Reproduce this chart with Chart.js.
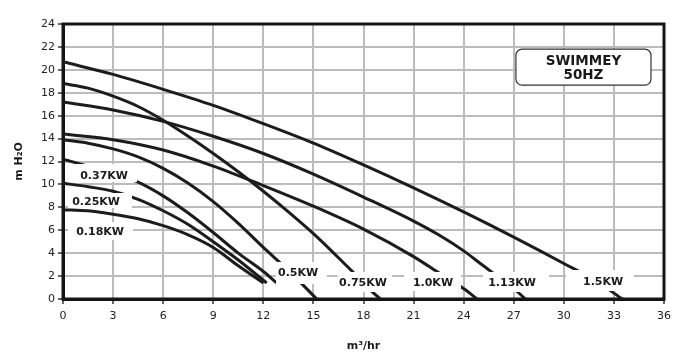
<!DOCTYPE html>
<html>
<head>
<meta charset="utf-8">
<script src="https://cdn.jsdelivr.net/npm/chart.js@4.4.0/dist/chart.umd.min.js"></script>
<style>
  html, body { margin: 0; padding: 0; background: #fff; }
  #wrap { width: 690px; height: 355px; }
</style>
</head>
<body>
<div id="wrap"><canvas id="chart" width="690" height="355"></canvas></div>
<script>
// pump curves, [flow m3/hr, head m]
const curve018 = [[0, 7.8], [1.5, 7.7], [3, 7.4], [4.5, 7.0], [6, 6.4], [7.5, 5.6], [9, 4.5], [10.5, 2.9], [12, 1.4]];
const curve025 = [[0, 10.1], [1.5, 9.8], [3, 9.4], [4.5, 8.7], [6, 7.7], [7.5, 6.5], [9, 5.0], [10.5, 3.4], [12.2, 1.4]];
const curve037 = [[0, 12.2], [1.5, 11.6], [3, 11.0], [4.5, 10.2], [6, 9.0], [7.5, 7.5], [9, 5.8], [10.5, 4.0], [12, 2.4], [12.8, 1.4]];
const curve050 = [[0, 13.9], [1.5, 13.6], [3, 13.1], [4.5, 12.4], [6, 11.4], [7.5, 10.1], [9, 8.5], [10.5, 6.6], [12, 4.5], [13.5, 2.5], [15.2, 0]];
const curve075 = [[0, 18.8], [1.5, 18.4], [3, 17.7], [4.5, 16.8], [6, 15.6], [7.5, 14.2], [9, 12.7], [10.5, 11.1], [12, 9.4], [13.5, 7.6], [15, 5.7], [16.5, 3.6], [17.4, 2.3], [18.4, 0.8], [19.0, 0]];
const curve100 = [[0, 14.4], [3, 13.9], [6, 13.0], [9, 11.6], [12, 9.9], [15, 8.1], [18, 6.1], [21, 3.7], [22.6, 2.2], [24.1, 0.8], [24.8, 0]];
const curve113 = [[0, 17.2], [3, 16.5], [6, 15.5], [9, 14.2], [12, 12.7], [15, 10.9], [18, 8.9], [21, 6.8], [22.5, 5.6], [24, 4.2], [25, 3.1], [26, 2.0], [27, 0.9], [27.7, 0]];
const curve150 = [[0, 20.7], [3, 19.6], [6, 18.3], [9, 16.9], [12, 15.3], [15, 13.6], [18, 11.7], [21, 9.7], [24, 7.6], [27, 5.4], [30, 3.1], [32, 1.5], [33.5, 0]];

const curves = [curve018, curve025, curve037, curve050, curve075, curve100, curve113, curve150];
const powerLabels = ['0.18KW', '0.25KW', '0.37KW', '0.5KW', '0.75KW', '1.0KW', '1.13KW', '1.5KW'];

const xMax = 36, xStep = 3;
const yMax = 24, yStep = 2;

// where each power label sits (data units): text centre + white box [x1, x2, y1, y2]
const labelPlaces = [
  { tx: 2.22, ty: 5.85, box: [0.30, 4.19, 6.72, 5.15] },
  { tx: 1.98, ty: 8.47, box: [0.30, 4.13, 9.25, 7.94] },
  { tx: 2.46, ty: 10.73, box: [0.78, 4.43, 11.78, 10.21] },
  { tx: 14.08, ty: 2.27, box: [12.76, 15.81, 3.23, 1.31] },
  { tx: 17.97, ty: 1.40, box: [16.45, 19.71, 2.36, 0.61] },
  { tx: 22.16, ty: 1.40, box: [20.43, 23.84, 2.36, 0.70] },
  { tx: 26.90, ty: 1.40, box: [25.16, 29.11, 2.36, 0.61] },
  { tx: 32.35, ty: 1.48, box: [30.13, 34.20, 2.53, 0.70] },
];

const FONT = '"DejaVu Sans", Verdana, sans-serif';

// frame round the plot, over the grid
const framePlugin = {
  id: 'frame',
  beforeDatasetsDraw(chart) {
    const { ctx, chartArea: a } = chart;
    ctx.save();
    ctx.strokeStyle = '#151515';
    ctx.lineWidth = 3;
    ctx.strokeRect(a.left, a.top, a.right - a.left, a.bottom - a.top);
    ctx.restore();
  },
};

// KW labels on white boxes, and the model box
const labelPlugin = {
  id: 'labels',
  afterDatasetsDraw(chart) {
    const { ctx } = chart;
    const xs = chart.scales.x, ys = chart.scales.y;
    ctx.save();
    labelPlaces.forEach((p, i) => {
      const x1 = xs.getPixelForValue(p.box[0]);
      const x2 = xs.getPixelForValue(p.box[1]);
      const y1 = ys.getPixelForValue(p.box[2]);
      const y2 = ys.getPixelForValue(p.box[3]);
      ctx.fillStyle = '#fff';
      ctx.fillRect(x1, y1, x2 - x1, y2 - y1);
      ctx.fillStyle = '#1a1a1a';
      ctx.font = 'bold 11px ' + FONT;
      ctx.textAlign = 'center';
      ctx.textBaseline = 'middle';
      ctx.fillText(powerLabels[i], xs.getPixelForValue(p.tx), ys.getPixelForValue(p.ty));
    });

    // SWIMMEY 50HZ box
    const bx1 = xs.getPixelForValue(27.13), bx2 = xs.getPixelForValue(35.22);
    const by1 = ys.getPixelForValue(21.8), by2 = ys.getPixelForValue(18.67);
    ctx.beginPath();
    ctx.roundRect(bx1, by1, bx2 - bx1, by2 - by1, 6);
    ctx.fillStyle = '#fff';
    ctx.fill();
    ctx.strokeStyle = '#333';
    ctx.lineWidth = 1.2;
    ctx.stroke();
    ctx.fillStyle = '#1a1a1a';
    ctx.font = 'bold 13.5px ' + FONT;
    ctx.textAlign = 'center';
    ctx.textBaseline = 'middle';
    const cx = (bx1 + bx2) / 2;
    ctx.fillText('SWIMMEY', cx, by1 + 12);
    ctx.fillText('50HZ', cx, by1 + 26);
    ctx.restore();
  },
};

const datasets = curves.map((c, i) => ({
  label: powerLabels[i],
  data: c.map(([x, y]) => ({ x, y })),
  showLine: true,
  borderColor: '#1c1c1c',
  borderWidth: 3,
  pointRadius: 0,
  fill: false,
  cubicInterpolationMode: 'monotone',
}));

new Chart(document.getElementById('chart'), {
  type: 'scatter',
  data: { datasets },
  options: {
    responsive: false,
    animation: false,
    layout: { padding: { top: 24, right: 26, left: 0, bottom: 0 } },
    plugins: { legend: { display: false }, tooltip: { enabled: false } },
    scales: {
      x: {
        type: 'linear',
        min: 0,
        max: xMax,
        afterFit: (s) => { s.height = 56; },
        ticks: { stepSize: xStep, color: '#222', font: { family: FONT, size: 11 }, padding: 6 },
        grid: { color: '#bcbcbc', lineWidth: 2, tickLength: 5, tickColor: '#333', tickWidth: 1.5 },
        border: { display: true, color: '#151515', width: 3 },
        title: { display: true, text: 'm³/hr', color: '#1a1a1a', font: { family: FONT, size: 11, weight: 'bold' }, padding: { top: 0, bottom: 2 } },
      },
      y: {
        min: 0,
        max: yMax,
        afterFit: (s) => { s.width = 63; },
        ticks: { stepSize: yStep, color: '#222', font: { family: FONT, size: 11 }, padding: 3 },
        grid: { color: '#bcbcbc', lineWidth: 2, tickLength: 5, tickColor: '#333', tickWidth: 1.5 },
        border: { display: true, color: '#151515', width: 3 },
        title: { display: true, text: 'm H₂O', color: '#1a1a1a', font: { family: FONT, size: 11, weight: 'bold' }, padding: { top: 13, bottom: 0 } },
      },
    },
  },
  plugins: [framePlugin, labelPlugin],
});
</script>
</body>
</html>
